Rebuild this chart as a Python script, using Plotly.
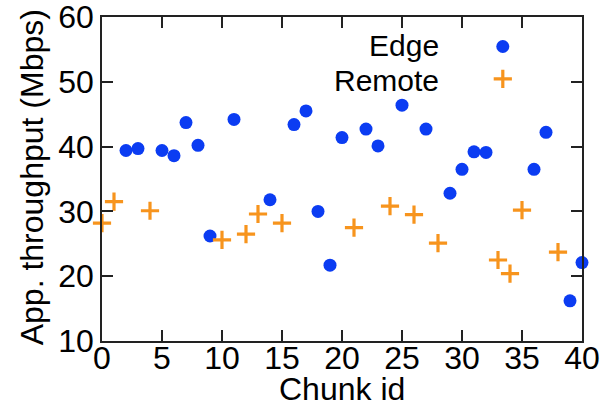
import plotly.graph_objects as go

# Per-chunk application throughput (Mbps)
edge_chunks = [2, 3, 5, 6, 7, 8, 9, 11, 14, 16, 17, 18, 19, 20, 22, 23, 25, 27, 29, 30, 31, 32, 36, 37, 39, 40]
edge_vals = [39.4, 39.7, 39.4, 38.6, 43.7, 40.2, 26.2, 44.2, 31.8, 43.4, 45.5, 30.0, 21.7, 41.4,
             42.7, 40.1, 46.4, 42.7, 32.8, 36.5, 39.2, 39.1, 36.5, 42.2, 16.2, 22.1]
remote_chunks = [0, 1, 4, 10, 12, 13, 15, 21, 24, 26, 28, 33, 34, 35, 38]
remote_vals = [28.2, 31.5, 30.1, 25.6, 26.5, 29.6, 28.2, 27.5, 30.8, 29.5, 25.1, 22.5, 20.4, 30.2, 23.7]

series_names = ["Edge", "Remote"]
x_ticks = [0, 5, 10, 15, 20, 25, 30, 35, 40]
y_ticks = [10, 20, 30, 40, 50, 60]
x_title = "Chunk id"
y_title = "App. throughput (Mbps)"

BLUE = "#0b3cf2"
ORANGE = "#f7941d"
FONT = "Liberation Sans, Arial, Helvetica, sans-serif"
FS = 32

edge_marker = dict(symbol="circle", size=13, color=BLUE)
remote_marker = dict(symbol="cross-thin", size=13, color=ORANGE, line=dict(color=ORANGE, width=3.2))

fig = go.Figure()
fig.add_trace(go.Scatter(x=edge_chunks, y=edge_vals, mode="markers", name=series_names[0],
                         marker=edge_marker, cliponaxis=False, showlegend=False))
fig.add_trace(go.Scatter(x=remote_chunks, y=remote_vals, mode="markers", name=series_names[1],
                         marker=remote_marker, cliponaxis=False, showlegend=False))

# Key: text right-aligned with the symbol on its right, drawn on an overlay 0-1 frame
key_x = 0.835
key_text_x = 0.707
key_sym_y = [0.909, 0.809]
key_text_y = [0.913, 0.805]
fig.add_trace(go.Scatter(x=[key_x], y=[key_sym_y[0]], xaxis="x2", yaxis="y2", mode="markers",
                         marker=edge_marker, showlegend=False, hoverinfo="skip", cliponaxis=False))
fig.add_trace(go.Scatter(x=[key_x], y=[key_sym_y[1]], xaxis="x2", yaxis="y2", mode="markers",
                         marker=remote_marker, showlegend=False, hoverinfo="skip", cliponaxis=False))
for name, ky in zip(series_names, key_text_y):
    fig.add_annotation(x=key_text_x, y=ky, xref="paper", yref="paper", text=name,
                       showarrow=False, xanchor="right", yanchor="middle",
                       font=dict(size=30, color="black", family=FONT))

# Axis titles, placed in paper coordinates
fig.add_annotation(x=0.5, y=-0.148, xref="paper", yref="paper", text=x_title,
                   showarrow=False, xanchor="center", yanchor="middle",
                   font=dict(size=FS, color="black", family=FONT))
fig.add_annotation(x=-0.146, y=0.505, xref="paper", yref="paper", text=y_title, textangle=-90,
                   showarrow=False, xanchor="center", yanchor="middle",
                   font=dict(size=FS, color="black", family=FONT))

axis_common = dict(
    showgrid=False, zeroline=False, showline=True, linecolor="#222", linewidth=1.5,
    mirror="allticks", ticks="inside", ticklen=11, tickwidth=1.5, tickcolor="#222",
    tickfont=dict(size=FS, color="black", family=FONT), ticklabeloverflow="allow",
    automargin=False,
)

fig.update_layout(
    width=615, height=406,
    margin=dict(l=102, r=33, t=17, b=65),
    paper_bgcolor="white", plot_bgcolor="white",
    font=dict(family=FONT, color="black"),
    xaxis=dict(range=[0, 40], tickvals=x_ticks, ticklabelstandoff=-12, **axis_common),
    yaxis=dict(range=[10, 60], tickvals=y_ticks, **axis_common),
    xaxis2=dict(range=[0, 1], overlaying="x", visible=False),
    yaxis2=dict(range=[0, 1], overlaying="y", visible=False),
)

fig.write_html("out.html")
